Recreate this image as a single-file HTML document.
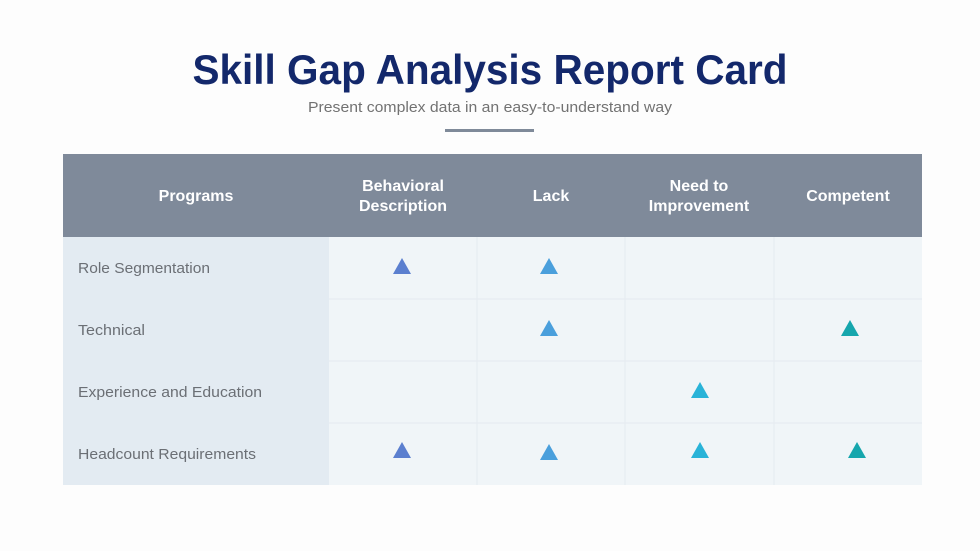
<!DOCTYPE html>
<html><head><meta charset="utf-8"><style>
html,body{margin:0;padding:0;background:#fdfdfd;}
svg{display:block;font-family:"Liberation Sans",sans-serif;}
</style></head><body>
<svg width="980" height="551" viewBox="0 0 980 551" xmlns="http://www.w3.org/2000/svg">
<rect width="980" height="551" fill="#fdfdfd"/>
<text x="490" y="84" text-anchor="middle" font-size="42" font-weight="bold" fill="#13286b" textLength="595" lengthAdjust="spacingAndGlyphs">Skill Gap Analysis Report Card</text>
<text x="490" y="112" text-anchor="middle" font-size="15" fill="#727272" textLength="364" lengthAdjust="spacingAndGlyphs">Present complex data in an easy-to-understand way</text>
<rect x="445" y="129" width="89" height="3" fill="#7f8a99"/>
<rect x="63" y="154" width="859" height="83" fill="#7f8a9a"/>
<rect x="63" y="237" width="266" height="248" fill="#e3ebf2"/>
<rect x="329" y="237" width="593" height="248" fill="#f0f5f8"/>
<g stroke="#e6ecf1" stroke-width="1.2">
<line x1="329" y1="299" x2="922" y2="299"/><line x1="329" y1="361" x2="922" y2="361"/><line x1="329" y1="423" x2="922" y2="423"/>
<line x1="477" y1="237" x2="477" y2="485"/><line x1="625" y1="237" x2="625" y2="485"/><line x1="774" y1="237" x2="774" y2="485"/>
</g>
<g fill="#ffffff" font-size="16" font-weight="bold" text-anchor="middle">
<text x="196" y="201">Programs</text>
<text x="403" y="191">Behavioral</text><text x="403" y="211">Description</text>
<text x="551" y="201">Lack</text>
<text x="699" y="191">Need to</text><text x="699" y="211">Improvement</text>
<text x="848" y="201">Competent</text>
</g>
<g fill="#6b6f75" font-size="15">
<text x="78" y="273" textLength="132" lengthAdjust="spacingAndGlyphs">Role Segmentation</text>
<text x="78" y="335" textLength="67" lengthAdjust="spacingAndGlyphs">Technical</text>
<text x="78" y="397" textLength="184" lengthAdjust="spacingAndGlyphs">Experience and Education</text>
<text x="78" y="459" textLength="178" lengthAdjust="spacingAndGlyphs">Headcount Requirements</text>
</g>
<g>
<polygon points="393,274 402,258 411,274" fill="#5b7fcf"/>
<polygon points="540,274 549,258 558,274" fill="#4a9fdc"/>
<polygon points="540,336 549,320 558,336" fill="#4a9fdc"/>
<polygon points="841,336 850,320 859,336" fill="#16a6ad"/>
<polygon points="691,398 700,382 709,398" fill="#29b3d8"/>
<polygon points="393,458 402,442 411,458" fill="#5b7fcf"/>
<polygon points="540,460 549,444 558,460" fill="#4a9fdc"/>
<polygon points="691,458 700,442 709,458" fill="#29b3d8"/>
<polygon points="848,458 857,442 866,458" fill="#16a6ad"/>
</g>
</svg>
</body></html>
